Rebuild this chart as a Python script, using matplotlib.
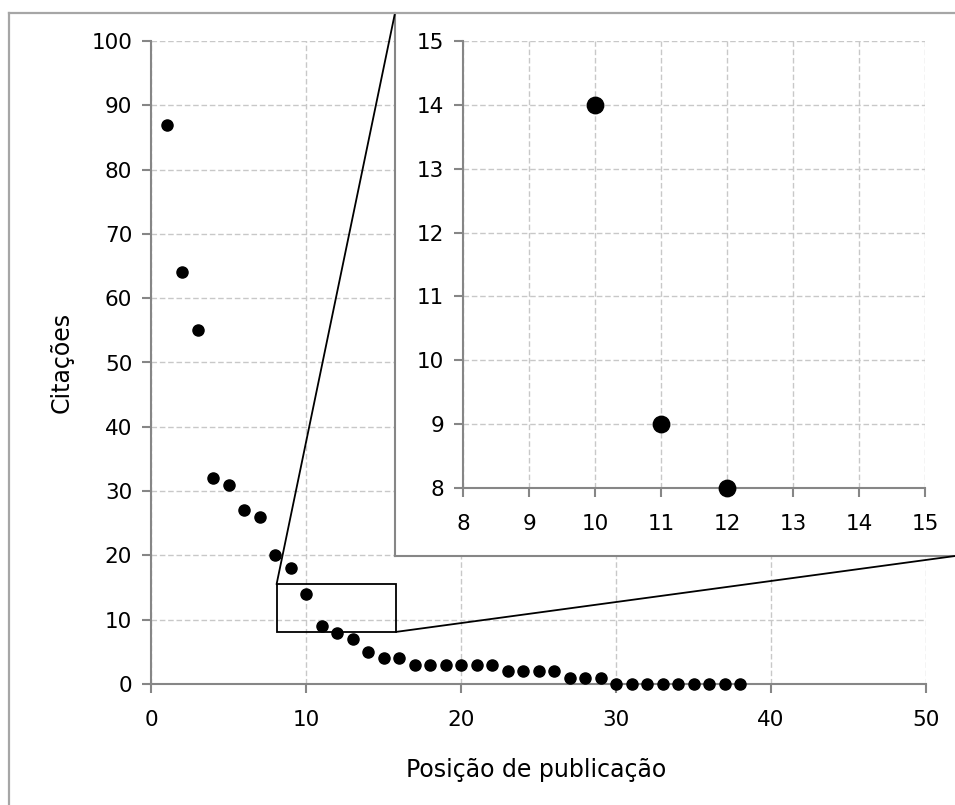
import numpy as np
import matplotlib.pyplot as plt
from matplotlib.lines import Line2D
from matplotlib.patches import Rectangle, ConnectionPatch

positions = [1, 2, 3, 4, 5, 6, 7, 8, 9, 10, 11, 12, 13, 14, 15, 16, 17, 18, 19,
             20, 21, 22, 23, 24, 25, 26, 27, 28, 29, 30, 31, 32, 33, 34, 35, 36, 37, 38]
citations = [87, 64, 55, 32, 31, 27, 26, 20, 18, 14, 9, 8, 7, 5, 4, 4, 3, 3, 3,
             3, 3, 3, 2, 2, 2, 2, 1, 1, 1, 0, 0, 0, 0, 0, 0, 0, 0, 0]

main_xticks = [0, 10, 20, 30, 40, 50]
main_yticks = [0, 10, 20, 30, 40, 50, 60, 70, 80, 90, 100]
zoom_ticks = [8, 9, 10, 11, 12, 13, 14, 15]
zoom_box = (8.1, 15.8, 8.1, 15.5)  # x0, x1, y0, y1 of the marked region

W, H = 955, 805
SPINE = "#868686"
GRID = "#c8c8c8"
FONT = 15.5
LABEL_FONT = 17


def fx(px):
    return px / W


def fy(py):
    return 1 - py / H


def style_axes(ax):
    for side in ["top", "right"]:
        ax.spines[side].set_visible(False)
    for side in ["left", "bottom"]:
        ax.spines[side].set_color(SPINE)
        ax.spines[side].set_linewidth(1.5)
    ax.tick_params(direction="out", length=6.5, width=1.5, color=SPINE,
                   labelsize=FONT)
    ax.tick_params(axis="x", pad=12)
    ax.tick_params(axis="y", pad=7)
    ax.grid(True, linestyle=(0, (4, 2)), color=GRID, linewidth=1)
    ax.set_axisbelow(True)


plt.rcParams["font.family"] = "DejaVu Sans"
fig = plt.figure(figsize=(W / 100, H / 100), dpi=100)

# outer chart border (left and top only visible in the crop)
fig.add_artist(Line2D([fx(9), fx(9)], [fy(13), 0], color="#a6a6a6", lw=1.6,
                      transform=fig.transFigure))
fig.add_artist(Line2D([fx(9), 1], [fy(13), fy(13)], color="#a6a6a6", lw=1.6,
                      transform=fig.transFigure))

# main plot
ax = fig.add_axes([fx(151), fy(684), fx(926) - fx(151), fy(41) - fy(684)])
ax.scatter(positions, citations, s=64, color="black", zorder=3, clip_on=False)
ax.set_xlim(0, 50)
ax.set_ylim(0, 100)
ax.set_xticks(main_xticks)
ax.set_yticks(main_yticks)
style_axes(ax)
ax.set_xlabel("Posição de publicação", fontsize=LABEL_FONT, va="center")
ax.set_ylabel("Citações", fontsize=LABEL_FONT, va="center")
ax.xaxis.set_label_coords(0.497, (684 - 770) / 643)
ax.yaxis.set_label_coords((62 - 151) / 775, (684 - 362) / 643)

x0, x1, y0, y1 = zoom_box
ax.add_patch(Rectangle((x0, y0), x1 - x0, y1 - y0, fill=False,
                       edgecolor="black", lw=1.3, zorder=4))

# inset frame (white panel)
bg = fig.add_axes([fx(395), fy(556), 1 - fx(395) + 0.01, fy(13) - fy(556)])
bg.set_facecolor("white")
bg.set_xticks([])
bg.set_yticks([])
for side in ["top", "right"]:
    bg.spines[side].set_visible(False)
for side in ["left", "bottom"]:
    bg.spines[side].set_color(SPINE)
    bg.spines[side].set_linewidth(1.5)

# inset plot
ins = fig.add_axes([fx(463), fy(488), fx(925) - fx(463), fy(41) - fy(488)])
ins.set_facecolor("none")
px = np.array(positions)
cy = np.array(citations)
mask = (px >= 8) & (px <= 15) & (cy >= 8) & (cy <= 15)
ins.scatter(px[mask], cy[mask], s=140, color="black", zorder=3, clip_on=False)
ins.set_xlim(8, 15)
ins.set_ylim(8, 15)
ins.set_xticks(zoom_ticks)
ins.set_yticks(zoom_ticks)
style_axes(ins)

# connector lines from the marked region to the inset panel
c1 = ConnectionPatch(xyA=(x0, y1), coordsA=ax.transData,
                     xyB=(0, 1), coordsB=bg.transAxes, color="black", lw=1.3)
c2 = ConnectionPatch(xyA=(x1, y0), coordsA=ax.transData,
                     xyB=(fx(955), fy(556)), coordsB=fig.transFigure,
                     color="black", lw=1.3)
fig.add_artist(c1)
fig.add_artist(c2)

fig.savefig("out.png", dpi=100)
